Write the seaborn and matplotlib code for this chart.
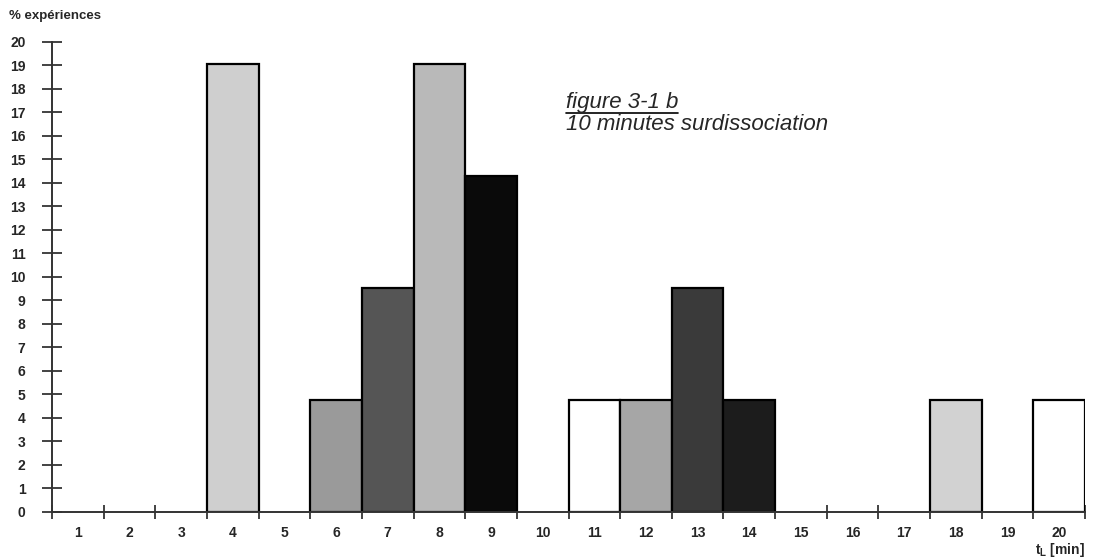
import numpy as np
import pandas as pd
import matplotlib
matplotlib.use('Agg')
import matplotlib.pyplot as plt
import seaborn as sns

# données (21 expériences -> pas de 4.76 %)
minutes = [str(m) for m in range(1, 21)]
pourcent = [0, 0, 0, 19.05, 0, 4.76, 9.52, 19.05, 14.29, 0,
            4.76, 4.76, 9.52, 4.76, 0, 0, 0, 4.76, 0, 4.76]
couleurs = ['#ffffff', '#ffffff', '#ffffff', '#cfcfcf', '#ffffff',
            '#9a9a9a', '#555555', '#b9b9b9', '#0a0a0a', '#ffffff',
            '#ffffff', '#a6a6a6', '#3a3a3a', '#1c1c1c', '#ffffff',
            '#ffffff', '#ffffff', '#d2d2d2', '#ffffff', '#ffffff']

sns.set_style('white')
plt.rcParams['font.family'] = ['Liberation Sans', 'DejaVu Sans']
plt.rcParams['mathtext.fontset'] = 'custom'
plt.rcParams['mathtext.bf'] = 'Liberation Sans:bold'
plt.rcParams['mathtext.rm'] = 'Liberation Sans'

df = pd.DataFrame({'t': minutes, 'pct': pourcent})
df_bars = df[df['pct'] > 0]
palette = dict(zip(minutes, couleurs))

fig = plt.figure(figsize=(11.05, 5.6), dpi=100)
ax = fig.add_axes([0.047, 0.086, 0.935, 0.839])

sns.barplot(data=df_bars, x='t', y='pct', hue='t', order=minutes,
            hue_order=minutes, palette=palette, legend=False, width=1.0,
            edgecolor='black', linewidth=1.6, saturation=1, ax=ax)

ax.set_xlim(-0.5, 19.5)
ax.set_ylim(0, 20)
ax.set_yticks(range(0, 21))
ax.set_xticks(range(20))
ax.set_xticklabels(minutes)
ax.set_xticks(np.arange(-0.5, 20, 1), minor=True)
ax.set_xlabel('')
ax.set_ylabel('')

for s in ['top', 'right']:
    ax.spines[s].set_visible(False)
for s in ['left', 'bottom']:
    ax.spines[s].set_color('#333333')
    ax.spines[s].set_linewidth(1.4)

ax.tick_params(axis='y', left=True, direction='inout', length=14, width=1.2,
               color='#222222', labelsize=10, pad=12)
ax.tick_params(axis='x', which='major', bottom=True, length=0,
               labelsize=10, pad=10)
ax.tick_params(axis='x', which='minor', bottom=True, direction='inout',
               length=10, width=1.2, color='#222222')
for lab in ax.get_yticklabels() + ax.get_xticklabels():
    lab.set_fontweight('bold')

fig.text(0.008, 0.972, '% expériences', fontsize=9.5, fontweight='bold',
         ha='left', va='center')
fig.text(0.982, 0.018, r'$\mathbf{t_L}$ [min]', fontsize=10,
         fontweight='bold', ha='right', va='center')

t1 = fig.text(0.512, 0.807, 'figure 3-1 b', fontsize=16, style='italic',
              ha='left', va='baseline')
fig.text(0.512, 0.767, '10 minutes surdissociation', fontsize=16,
         style='italic', ha='left', va='baseline')

# soulignement du titre
fig.canvas.draw()
bb = t1.get_window_extent().transformed(fig.transFigure.inverted())
fig.add_artist(plt.Line2D([bb.x0, bb.x1], [bb.y0 + 0.001, bb.y0 + 0.001],
                          transform=fig.transFigure, color='black', lw=1.2))

fig.savefig('out.png', dpi=100)
